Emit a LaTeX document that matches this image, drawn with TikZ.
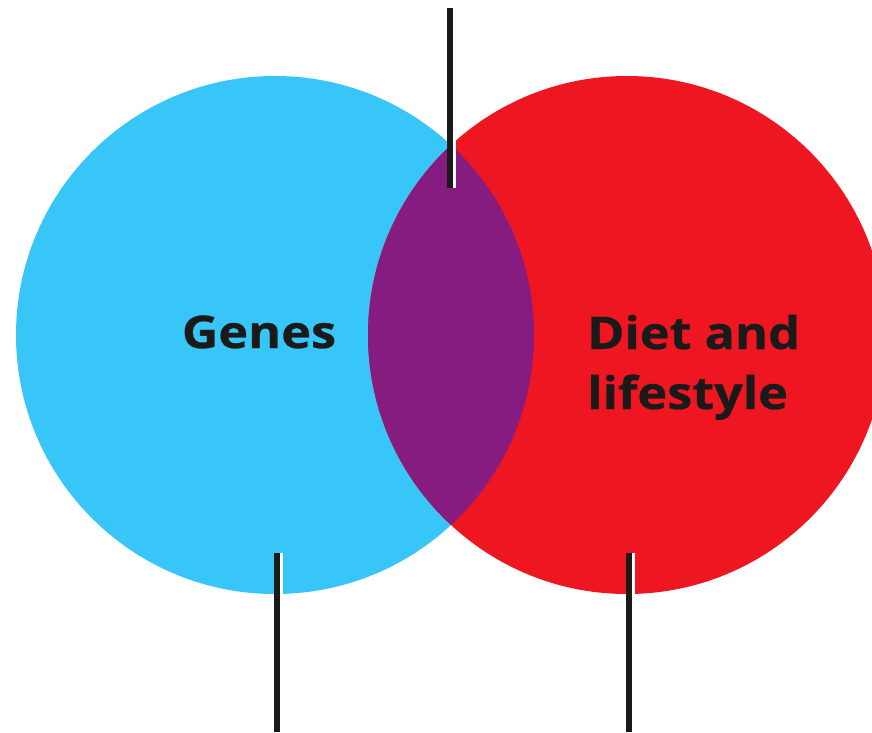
\documentclass[tikz,border=0pt]{standalone}
\usepackage{fontspec}
\setmainfont{Open Sans}
\newfontfamily\lblfont[FakeStretch=1.12, FakeBold=0.6]{Open Sans Bold}
\definecolor{geneblue}{HTML}{38C5F8}
\definecolor{dietred}{HTML}{EE1620}
\definecolor{mixpurple}{HTML}{861C7F}
\definecolor{inkblack}{HTML}{1A1A1A}
\begin{document}
\begin{tikzpicture}[x=1pt,y=-1pt,
  lbl/.style={font=\lblfont\fontsize{45}{60}\selectfont, text=inkblack, inner sep=0pt},
  pointer/.style={draw=inkblack, line width=6pt},
  halo/.style={draw=white, line width=3pt}]
\useasboundingbox (0,0) rectangle (872,732);
\begin{scope}
\clip (0,0) rectangle (872,732);
\fill[geneblue] (275,335) circle[radius=259];
\fill[dietred] (627,335) circle[radius=259];
\begin{scope}
\clip (275,335) circle[radius=259];
\fill[mixpurple] (627,335) circle[radius=259];
\end{scope}
\end{scope}
\node[lbl, anchor=base] (genes) at (259,348) {Genes};
\node[lbl, anchor=base west, align=left] (diet) at (587,409) {Diet and\\lifestyle};
\coordinate (t1) at (450,8);
\coordinate (t2) at (450,188);
\coordinate (l1) at (277,553);
\coordinate (l2) at (277,732);
\coordinate (r1) at (629,553);
\coordinate (r2) at (629,732);
\draw[halo] ([xshift=4.5pt]t1) -- ([xshift=4.5pt]t2);
\draw[halo] ([xshift=4.5pt]l1) -- ([xshift=4.5pt]l2);
\draw[halo] ([xshift=4.5pt]r1) -- ([xshift=4.5pt]r2);
\draw[pointer] (t1) -- (t2);
\draw[pointer] (l1) -- (l2);
\draw[pointer] (r1) -- (r2);
\end{tikzpicture}
\end{document}
